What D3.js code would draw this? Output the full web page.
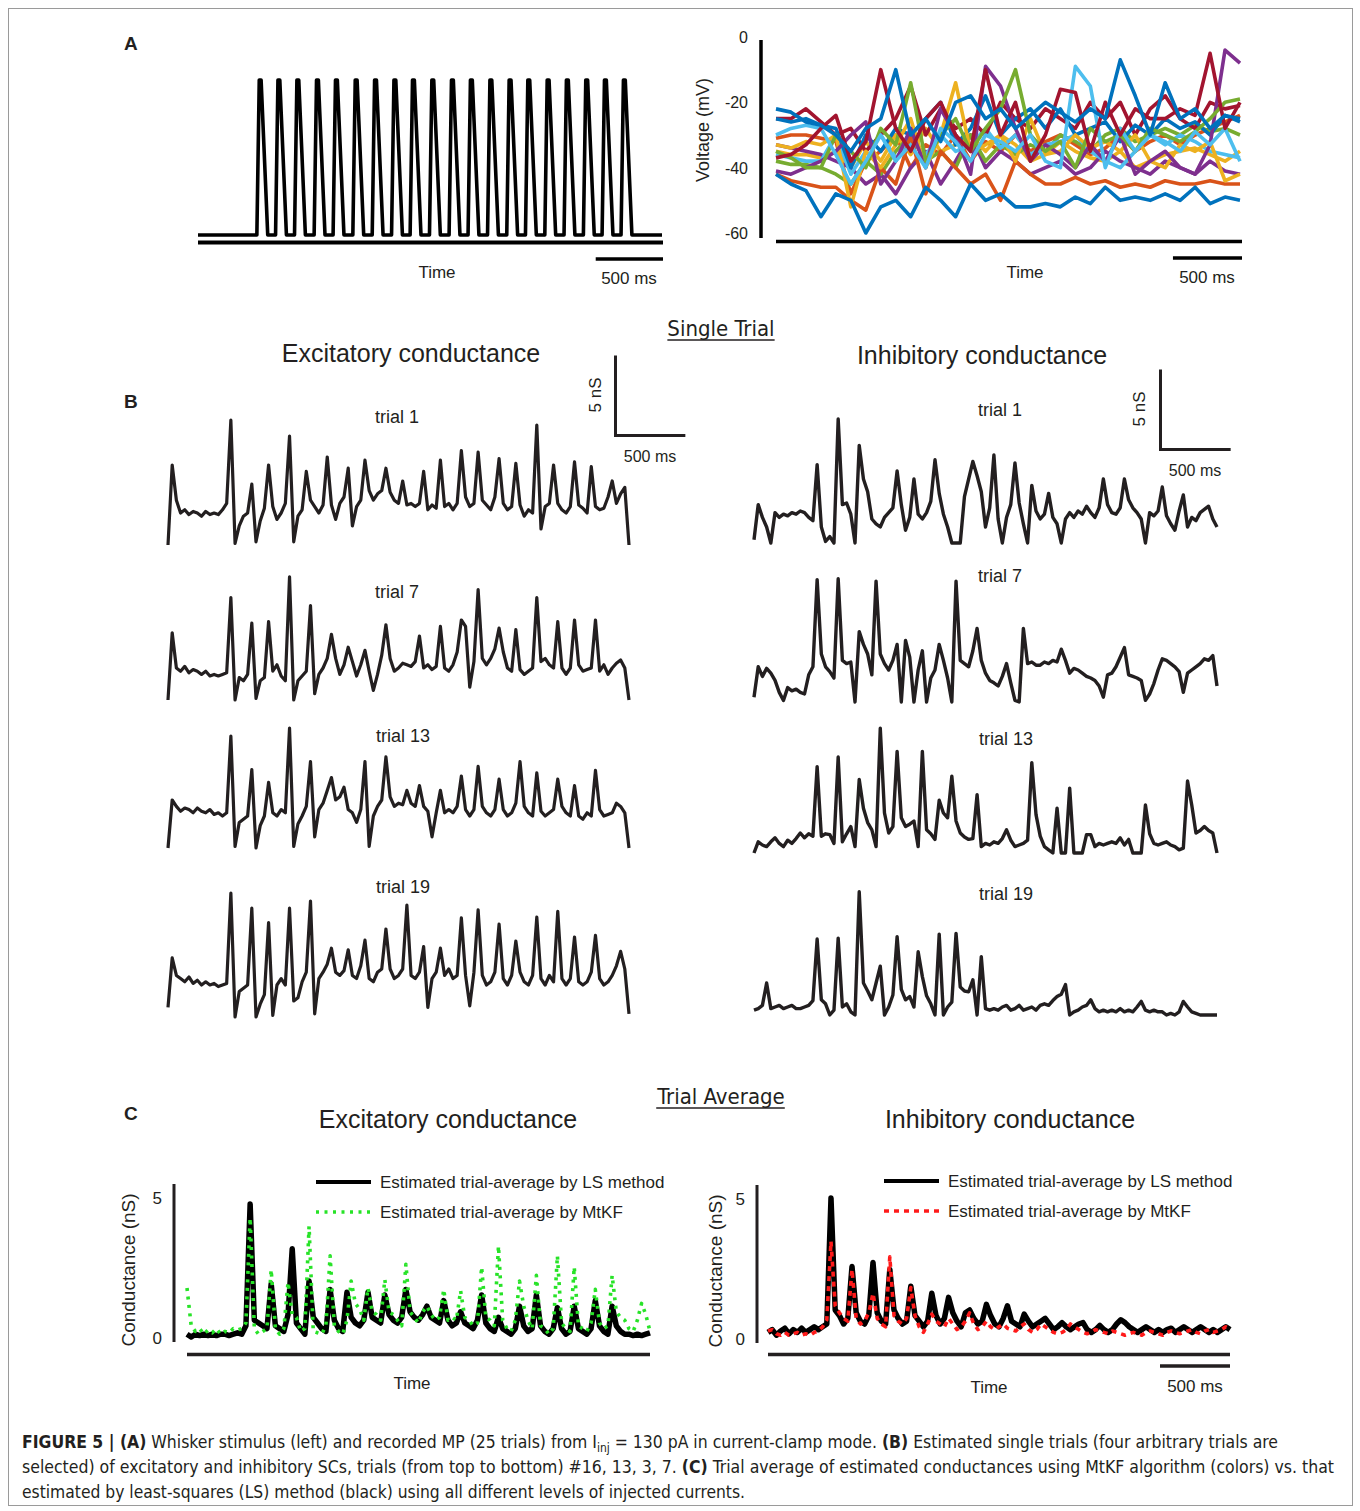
<!DOCTYPE html>
<html><head><meta charset="utf-8">
<script src="https://cdn.jsdelivr.net/npm/d3@7"></script>
<style>
body{margin:0;background:#fff}
svg text{font-family:Arial,"Liberation Sans",Helvetica,sans-serif;fill:#231f20}
.narrow{font-family:"Liberation Sans Narrow","Arial Narrow","DejaVu Sans Condensed",sans-serif}
</style></head>
<body><svg id="c" width="1360" height="1511"></svg>
<script>
// ---------------- DATA ----------------
// Panel A left: whisker stimulus pulse peak times (ms) and pulse shape (offset ms, amplitude)
const stimTimes = [468,609,752,900,1043,1192,1338,1484,1624,1770,1918,2061,2208,2353,2494,2640,2785,2931,3072,3215];
const pulseShape = [[-24,0],[-6,1],[8,1],[58,0]];
const stimDuration = 3500;

// Panel A right: membrane potential (mV), 32 samples over the recording
const vmDuration = 3360;
const vmTicks = [0,-20,-40,-60];
const vmOrange2 = [-31,-30,-30,-31,-32,-48,-38,-35,-30,-40,-33,-36,-30,-38,-32,-35,-30,-35,-32,-30,-33,-36,-34,-30,-35,-32,-30,-33,-30,-28,-26,-24];
const vmYellow2 = [-35,-36,-36,-37,-35,-40,-32,-38,-30,-36,-28,-35,-33,-30,-35,-30,-33,-38,-36,-32,-35,-37,-38,-35,-40,-38,-36,-35,-34,-36,-38,-35];
const vmPurple2 = [-33,-34,-35,-36,-38,-40,-45,-42,-48,-40,-35,-45,-38,-30,-40,-35,-38,-42,-40,-38,-42,-40,-35,-38,-40,-42,-38,-40,-42,-38,-41,-42];
const vmGreen2  = [-38,-39,-39,-40,-42,-45,-38,-42,-35,-30,-38,-35,-40,-30,-38,-33,-36,-33,-35,-30,-32,-35,-30,-28,-32,-30,-28,-30,-27,-29,-28,-30];
const vmLBlue2  = [-36,-37,-38,-38,-30,-42,-35,-30,-37,-32,-36,-30,-35,-33,-28,-34,-30,-36,-33,-32,-30,-35,-38,-40,-35,-30,-33,-30,-32,-35,-36,-37];
const vmRed2    = [-25,-25,-22,-26,-30,-28,-35,-30,-25,-15,-30,-22,-28,-25,-30,-20,-25,-28,-22,-25,-28,-20,-25,-20,-30,-22,-18,-25,-28,-20,-22,-21];
const vmBlue3   = [-25,-26,-25,-27,-28,-40,-30,-35,-28,-30,-25,-20,-33,-28,-18,-30,-25,-22,-28,-22,-30,-28,-26,-32,-27,-30,-25,-28,-26,-30,-24,-26];
const vmOrange1 = [-42,-44,-45,-46,-46,-50,-53,-40,-45,-30,-48,-35,-40,-45,-42,-50,-38,-42,-45,-45,-43,-45,-44,-46,-45,-46,-44,-45,-45,-44,-45,-45];
const vmYellow1 = [-33,-34,-32,-33,-30,-52,-35,-40,-33,-25,-40,-30,-14,-35,-33,-30,-38,-25,-36,-35,-30,-34,-32,-35,-30,-38,-40,-33,-35,-32,-44,-42];
const vmPurple1 = [-41,-42,-40,-38,-35,-30,-26,-45,-38,-28,-40,-22,-30,-42,-9,-15,-28,-38,-33,-36,-40,-33,-38,-30,-42,-38,-35,-40,-42,-33,-4,-8];
const vmGreen1  = [-35,-37,-40,-40,-30,-35,-40,-28,-33,-14,-38,-30,-25,-35,-28,-22,-10,-30,-35,-32,-40,-28,-32,-30,-35,-28,-30,-32,-29,-25,-20,-19];
const vmLBlue1  = [-30,-28,-27,-28,-36,-45,-38,-30,-38,-33,-40,-28,-32,-38,-30,-32,-35,-30,-38,-40,-9,-15,-40,-28,-35,-30,-32,-35,-29,-33,-28,-38];
const vmRed1    = [-37,-36,-33,-28,-24,-38,-32,-10,-28,-35,-25,-20,-30,-35,-10,-30,-20,-38,-30,-16,-17,-35,-20,-30,-22,-25,-25,-22,-24,-5,-28,-20];
const vmBlueLow = [-42,-45,-47,-55,-48,-50,-60,-52,-50,-55,-46,-50,-55,-45,-50,-48,-52,-52,-51,-52,-49,-51,-46,-50,-49,-50,-48,-50,-46,-51,-49,-50];
const vmBlueTop = [-22,-23,-26,-27,-30,-35,-28,-25,-10,-30,-25,-32,-20,-18,-25,-22,-28,-24,-20,-23,-26,-22,-25,-7,-18,-30,-14,-25,-22,-28,-24,-25];

// Panels B and C: conductance (nS) sampled every 30 ms over 3300 ms
const stepMs = 30;
const traceDuration = 3300;
const excTrial1 = [0,5.0,2.8,2.0,2.2,1.9,2.1,2.0,1.8,2.1, 1.9,2.0,1.9,2.2,2.6,7.8,0.1,1.2,1.8,2.0, 3.8,0.2,1.5,2.3,5.0,2.4,1.6,2.0,2.6,6.8, 0.2,1.8,2.2,4.6,2.8,2.4,2.0,2.5,5.5,2.5, 1.6,2.6,3.0,4.8,1.2,2.4,2.8,5.3,3.4,2.8, 3.2,3.4,4.8,3.3,2.8,2.6,4.0,2.5,2.6,2.4, 2.6,4.6,2.2,2.5,2.3,5.3,2.4,2.6,2.2,2.6, 5.9,3.0,2.4,2.6,5.8,2.8,2.5,2.2,3.0,5.4, 2.6,2.2,2.4,5.1,2.5,1.8,2.2,2.0,7.5,1.0, 2.4,2.6,5.0,2.6,2.2,2.0,2.4,5.2,2.5,2.3, 2.0,4.9,2.4,2.2,2.3,3.0,4.0,2.6,3.2,3.6,0];
const excTrial7 = [0,4.2,2.0,1.8,2.1,1.7,1.9,1.8,1.6,1.8, 1.5,1.6,1.5,1.6,1.7,6.4,0.0,1.4,1.2,1.6, 4.8,0.1,1.2,1.4,4.9,1.8,2.2,1.5,1.2,7.7, 0.0,1.2,1.5,1.8,5.9,0.4,1.6,2.0,2.6,4.1, 2.6,1.6,2.2,3.3,2.4,1.5,2.2,3.1,1.8,0.6, 1.6,2.8,4.7,2.6,1.8,2.0,2.3,2.2,2.1,2.4, 4.0,2.0,2.2,1.9,2.1,4.6,2.0,1.8,2.2,3.0, 5.0,4.6,0.8,2.4,6.9,2.6,2.2,2.6,3.2,4.5, 3.0,2.0,1.8,4.4,1.9,1.6,1.8,2.0,6.4,2.4, 2.6,2.2,2.0,4.9,2.0,1.6,2.0,5.0,2.2,1.8, 1.9,2.0,5.0,1.8,2.2,1.6,2.0,2.3,2.5,2.0,0.0];
const excTrial13 = [0,3.0,2.6,2.3,2.5,2.4,2.2,2.5,2.3,2.2, 2.4,2.1,2.2,2.0,2.2,7.0,0.1,1.6,1.8,2.0, 4.9,0.0,1.4,2.0,4.1,2.2,2.0,2.4,2.2,7.5, 0.1,1.5,2.0,2.6,5.4,0.7,2.4,2.8,3.6,4.4, 3.0,3.2,3.8,2.4,2.2,1.6,2.4,5.4,0.1,2.0, 2.6,3.0,5.7,3.2,2.6,2.8,2.7,3.6,2.8,2.6, 3.9,2.6,2.3,0.7,2.2,3.6,2.2,2.4,2.2,2.6, 4.5,2.4,2.0,2.4,5.1,2.6,2.2,2.0,2.4,4.3, 2.4,2.0,2.2,2.8,5.4,2.6,2.2,2.0,4.7,2.3, 2.0,2.2,2.4,4.3,2.6,2.2,2.0,3.9,2.0,1.8, 2.2,2.0,4.85,2.4,2.0,2.1,2.2,2.8,2.6,2.2,0];
const excTrial19 = [0.6,3.7,2.6,2.4,2.2,2.5,2.1,2.3,2.0,2.2, 2.0,2.1,1.9,2.0,2.1,7.75,0.0,1.6,1.8,2.0, 6.8,0.0,0.8,1.4,5.9,0.1,2.0,2.4,2.0,6.8, 1.0,1.2,2.2,2.8,7.25,0.2,2.4,2.8,3.3,4.3, 2.8,2.6,2.9,4.2,2.6,2.4,3.2,4.8,2.4,2.2, 2.8,3.0,5.5,3.0,2.4,2.6,3.0,7.0,2.6,2.4, 2.8,4.4,0.6,2.4,2.8,4.3,2.6,3.0,2.4,2.6, 6.2,2.6,0.7,2.8,6.7,2.6,2.0,2.2,2.8,5.8, 2.4,2.0,2.6,4.75,2.8,2.2,2.0,2.6,6.25,2.4, 2.0,2.6,2.2,6.6,2.4,2.0,2.4,5.0,2.2,2.0, 2.2,2.8,5.1,2.4,2.0,2.2,2.6,3.2,4.1,3.0,0.2];
const inhTrial1 = [0.2,2.4,1.6,1.0,0.0,1.9,1.6,1.8,1.7,1.9, 1.8,2.0,1.9,1.6,1.4,4.9,1.0,0.1,0.4,0.0, 7.75,2.4,2.5,1.8,0.0,6.1,4.0,3.2,1.5,1.2, 1.0,1.6,1.9,2.2,4.5,2.4,0.8,1.6,4.0,1.8, 1.5,1.9,2.6,5.2,3.1,1.8,1.0,0.0,0.0,0.0, 2.9,4.0,5.1,4.2,3.2,1.0,2.2,5.5,1.5,0.0, 1.6,2.4,5.0,2.5,1.2,0.0,3.6,2.0,1.5,1.8, 3.1,1.6,1.2,0.0,1.5,1.9,1.6,2.0,1.8,2.3, 1.9,1.6,2.2,4.0,2.4,1.9,1.8,2.2,4.0,2.7, 2.2,1.9,1.5,0.0,1.9,1.7,2.0,3.5,1.7,1.2, 0.8,2.0,3.0,1.0,1.6,1.4,1.9,2.1,2.3,1.5,1.0];
const inhTrial7 = [0.3,2.2,1.6,2.1,1.8,1.35,0.6,0.1,0.9,0.7, 0.8,0.6,0.5,1.7,2.2,7.65,3.0,2.2,1.9,1.5, 7.7,2.6,2.4,2.5,0.0,4.4,3.6,3.0,1.7,7.55, 3.0,2.4,2.0,2.6,3.6,0.0,3.85,2.8,0.0,2.0, 3.2,0.0,1.5,2.0,3.6,2.6,1.5,0.0,7.55,2.6, 2.4,2.2,3.2,4.6,2.6,1.8,1.35,1.2,1.0,1.6, 2.4,1.2,0.1,0.0,4.6,2.4,2.5,2.3,2.3,2.5, 2.4,2.6,2.5,3.3,2.6,1.8,2.1,2.0,1.8,1.6, 1.5,1.35,1.0,0.3,1.7,1.8,2.2,2.8,3.4,1.7, 1.6,1.5,1.35,0.1,0.5,1.15,2.0,2.7,2.6,2.4, 2.2,1.9,0.6,1.8,2.0,2.2,2.4,2.7,2.6,2.9,1.0];
const inhTrial13 = [0.0,0.7,0.5,0.4,0.7,0.95,0.6,0.4,0.8,0.6, 0.9,1.25,0.95,1.2,1.05,5.4,1.05,1.2,1.15,0.6, 6.0,0.7,1.2,1.65,0.4,4.6,2.8,1.9,1.45,0.4, 7.8,2.5,1.25,1.65,6.35,2.2,1.65,1.8,2.0,0.4, 6.35,1.45,1.2,0.85,3.3,2.5,2.2,4.8,2.0,1.25, 1.0,0.85,0.9,3.65,0.4,0.6,0.5,0.7,0.6,0.9, 1.45,0.8,0.4,0.5,0.6,0.8,5.65,2.4,1.05,0.4, 0.2,0.0,2.8,0.0,0.0,4.05,0.0,0.0,0.0,1.15, 1.15,0.4,0.6,0.5,0.6,0.7,0.6,0.95,0.5,0.85, 0.0,0.0,0.0,3.0,1.2,0.6,0.5,0.6,0.7,0.5, 0.4,0.2,0.3,4.5,3.0,1.25,1.4,1.65,1.4,1.25,0.0];
const inhTrial19 = [0.3,0.4,0.6,2.0,0.4,0.5,0.6,0.4,0.5,0.6, 0.4,0.4,0.5,0.6,0.9,4.75,0.95,0.7,0.0,0.3, 4.8,0.5,0.7,0.2,0.0,7.7,2.0,1.5,0.95,2.0, 3.05,0.0,0.5,1.25,4.9,1.6,0.95,1.15,0.5,3.95, 2.4,1.2,0.7,0.0,5.05,0.0,0.5,0.8,5.1,1.75, 1.5,1.45,2.2,0.0,3.65,0.4,0.3,0.4,0.3,0.5, 0.6,0.3,0.4,0.6,0.3,0.4,0.5,0.3,0.6,0.7, 0.6,0.9,1.15,1.3,1.9,0.0,0.2,0.3,0.5,0.6, 0.95,0.4,0.2,0.3,0.2,0.3,0.2,0.4,0.2,0.3, 0.2,0.5,0.85,0.3,0.2,0.3,0.2,0.2,0.0,0.1, 0.0,0.2,0.85,0.5,0.2,0.1,0.0,0.0,0.0,0.0,0.0];
const excAvgLS = [0.1,0.0,0.1,0.05,0.1,0.05,0.1,0.05,0.1,0.1, 0.05,0.1,0.15,0.1,0.4,4.75,0.6,0.5,0.4,0.3, 1.9,0.4,0.3,0.2,0.8,3.15,0.5,0.3,0.1,2.0, 0.7,0.5,0.3,0.2,1.7,0.6,0.3,0.2,1.6,0.7, 0.5,0.4,0.6,1.6,0.7,0.6,0.5,1.5,0.8,0.6, 0.5,0.7,1.7,0.9,0.7,0.6,0.8,1.1,0.7,0.6, 0.5,1.3,0.6,0.4,0.5,0.9,0.5,0.4,0.3,0.6, 1.5,0.5,0.3,0.2,0.7,0.3,0.2,0.1,0.3,1.1, 0.4,0.2,0.3,1.5,0.4,0.2,0.1,0.3,1.05,0.3, 0.1,0.2,1.1,0.3,0.2,0.1,0.3,1.3,0.4,0.2, 0.1,1.1,0.4,0.2,0.1,0.1,0.05,0.1,0.05,0.1,0.15];
const excAvgMtKF = [1.75,0.4,0.2,0.3,0.1,0.25,0.15,0.3,0.1,0.2, 0.15,0.3,0.25,0.3,0.5,4.25,0.3,0.1,0.2,0.3, 2.4,0.3,0.1,0.3,1.95,0.8,0.7,0.2,0.3,3.95, 0.2,0.15,0.1,0.4,2.9,0.4,0.2,0.1,0.6,2.0, 1.2,1.0,0.6,1.75,0.9,0.8,0.6,2.05,0.9,0.8, 0.6,0.4,2.6,0.9,0.7,0.5,0.9,1.1,0.8,0.6, 0.7,1.7,0.6,0.7,0.6,1.65,0.7,0.6,0.4,0.5, 2.5,0.7,0.6,0.4,3.25,0.6,0.3,0.2,0.6,2.0, 1.1,0.6,0.3,2.2,0.4,0.3,0.1,0.3,2.9,0.5, 0.3,0.2,2.5,0.4,0.3,0.2,0.5,1.7,0.5,0.3, 0.4,2.2,0.9,0.7,0.6,0.3,0.2,0.6,1.2,0.8,0.2];
const inhAvgLS = [0.2,0.3,0.1,0.25,0.35,0.15,0.3,0.2,0.35,0.2, 0.3,0.4,0.3,0.4,0.5,5.0,1.0,0.8,0.5,0.7, 2.55,0.9,0.6,0.5,0.8,2.7,0.9,0.6,0.5,2.45, 1.0,0.7,0.5,0.6,1.85,0.8,0.6,0.4,0.6,1.6, 0.8,0.5,0.7,1.45,0.9,0.6,0.4,0.9,1.0,0.7, 0.5,0.6,1.2,0.8,0.5,0.4,0.7,1.15,0.6,0.5, 0.4,0.85,0.6,0.4,0.5,0.6,0.7,0.5,0.3,0.4, 0.55,0.4,0.3,0.4,0.5,0.55,0.3,0.2,0.3,0.45, 0.3,0.2,0.3,0.5,0.65,0.55,0.4,0.3,0.2,0.3, 0.4,0.3,0.2,0.3,0.2,0.3,0.35,0.2,0.3,0.4, 0.3,0.2,0.3,0.4,0.3,0.2,0.3,0.2,0.3,0.4,0.3];
const inhAvgMtKF = [0.25,0.3,0.15,0.1,0.2,0.1,0.15,0.2,0.1,0.15, 0.1,0.2,0.25,0.4,0.65,3.45,1.15,0.9,0.7,0.6, 2.45,0.7,0.5,0.6,0.9,1.6,0.7,0.5,0.4,2.9, 0.8,0.6,0.5,0.7,1.8,0.8,0.4,0.2,0.5,0.85, 0.6,0.5,0.4,0.7,0.5,0.3,0.4,0.6,0.9,0.5, 0.3,0.4,0.6,0.4,0.3,0.4,0.5,0.35,0.3,0.25, 0.4,0.5,0.3,0.2,0.3,0.5,0.4,0.3,0.2,0.15, 0.2,0.3,0.5,0.4,0.3,0.2,0.15,0.2,0.3,0.25, 0.2,0.15,0.25,0.2,0.15,0.1,0.15,0.2,0.15,0.1, 0.2,0.25,0.2,0.15,0.1,0.2,0.25,0.2,0.15,0.2, 0.25,0.3,0.2,0.15,0.25,0.3,0.2,0.25,0.3,0.4,0.3];

const excTrialLabels = ["trial 1","trial 7","trial 13","trial 19"];
const inhTrialLabels = ["trial 1","trial 7","trial 13","trial 19"];
const legendLabels = ["Estimated trial-average by LS method","Estimated trial-average by MtKF"];
const cTicks = [0,5];

// ---------------- DRAWING ----------------
const svg = d3.select("#c");
const INK = "#231f20";

function text(x, y, s, o = {}) {
  const t = svg.append("text").attr("x", x).attr("y", y).text(s)
    .attr("font-size", o.size || 17).attr("text-anchor", o.anchor || "start");
  if (o.weight) t.attr("font-weight", o.weight);
  if (o.cls) t.attr("class", o.cls);
  if (o.rotate) t.attr("transform", `rotate(-90,${x},${y})`);
  return t;
}
function hline(x1, x2, y, w = 3, c = INK) {
  return svg.append("line").attr("x1", x1).attr("x2", x2).attr("y1", y).attr("y2", y)
    .attr("stroke", c).attr("stroke-width", w);
}
function vline(x, y1, y2, w = 3, c = INK) {
  return svg.append("line").attr("x1", x).attr("x2", x).attr("y1", y1).attr("y2", y2)
    .attr("stroke", c).attr("stroke-width", w);
}

// outer frame
svg.append("rect").attr("x", 8.5).attr("y", 8.5).attr("width", 1344).attr("height", 1497)
  .attr("fill", "none").attr("stroke", "#9a9a9a").attr("stroke-width", 1);

// Panel letters
text(124, 50, "A", { size: 19, weight: "bold" });
text(124, 408, "B", { size: 19, weight: "bold" });
text(124, 1120, "C", { size: 19, weight: "bold" });

// ---- Panel A left: stimulus ----
{
  const x = d3.scaleLinear().domain([0, stimDuration]).range([198, 662]);
  const y = d3.scaleLinear().domain([0, 1]).range([235, 80]);
  const pts = [[0, 0]];
  stimTimes.forEach(t => pulseShape.forEach(([dt, a]) => pts.push([t + dt, a])));
  pts.push([stimDuration, 0]);
  svg.append("path").datum(pts).attr("fill", "none").attr("stroke", "#000")
    .attr("stroke-width", 3.6).attr("stroke-linejoin", "round")
    .attr("d", d3.line().x(d => x(d[0])).y(d => y(d[1])));
  hline(x(0), x(stimDuration) + 1, 242.5, 4, "#000");
  hline(x(stimDuration) - (x(500) - x(0)), x(stimDuration) + 1, 259, 3.5, "#000");
  text(437, 278, "Time", { anchor: "middle" });
  text(629, 284, "500 ms", { anchor: "middle" });
}

// ---- Panel A right: membrane potential ----
{
  const x = d3.scaleLinear().domain([0, vmDuration]).range([776, 1240]);
  const y = d3.scaleLinear().domain([-60, 0]).range([233, 37]);
  const traces = [
    [vmOrange2, "#D95319"], [vmYellow2, "#EDB120"], [vmPurple2, "#7E2F8E"], [vmGreen2, "#77AC30"],
    [vmLBlue2, "#4DBEEE"], [vmRed2, "#A2142F"], [vmBlue3, "#0072BD"], [vmOrange1, "#D95319"],
    [vmYellow1, "#EDB120"], [vmPurple1, "#7E2F8E"], [vmGreen1, "#77AC30"], [vmLBlue1, "#4DBEEE"],
    [vmRed1, "#A2142F"], [vmBlueLow, "#0072BD"], [vmBlueTop, "#0072BD"]
  ];
  const line = arr => d3.line().x((d, i) => x(i * vmDuration / (arr.length - 1))).y(d => y(d))(arr);
  traces.forEach(([arr, c]) => {
    svg.append("path").attr("d", line(arr)).attr("fill", "none").attr("stroke", c)
      .attr("stroke-width", 3.6).attr("stroke-linejoin", "round");
  });
  vline(761, 40, 238, 3.5, "#000");
  hline(776, 1242, 241.5, 3.5, "#000");
  vmTicks.forEach(v => text(748, y(v) + 6, String(v), { size: 16, anchor: "end" }));
  text(709, 130, "Voltage (mV)", { size: 18, anchor: "middle", rotate: true });
  hline(1242 - (x(500) - x(0)), 1242, 258, 3.5, "#000");
  text(1025, 278, "Time", { anchor: "middle" });
  text(1207, 283, "500 ms", { anchor: "middle" });
}

// ---- Section headings ----
function underlined(cx, y, s) {
  const t = text(cx, y, s, { size: 22, anchor: "middle", cls: "narrow" });
  const b = t.node().getBBox();
  hline(b.x, b.x + b.width, y + 4, 1.3);
}
underlined(721, 336, "Single Trial");
text(411, 362, "Excitatory conductance", { size: 25, anchor: "middle" });
text(982, 364, "Inhibitory conductance", { size: 25, anchor: "middle" });

// ---- Panel B: single trials ----
function drawTrace(arr, x, y, w, c) {
  svg.append("path").attr("fill", "none").attr("stroke", c || INK).attr("stroke-width", w)
    .attr("stroke-linejoin", "round")
    .attr("d", d3.line().x((d, i) => x(i * stepMs)).y(d => y(d))(arr));
}
const pxPerNs = 16;
const excX = d3.scaleLinear().domain([0, traceDuration]).range([168, 629]);
const inhX = d3.scaleLinear().domain([0, traceDuration]).range([754, 1217]);
const excRows = [[excTrial1, 545, 423, 397], [excTrial7, 700, 598, 397], [excTrial13, 848, 742, 403], [excTrial19, 1017, 893, 403]];
const inhRows = [[inhTrial1, 543, 416, 1000], [inhTrial7, 702, 582, 1000], [inhTrial13, 853, 745, 1006], [inhTrial19, 1015, 900, 1006]];
excRows.forEach(([arr, base, ly, lx], i) => {
  const y = d3.scaleLinear().domain([0, 5]).range([base, base - 5 * pxPerNs]);
  drawTrace(arr, excX, y, 3.2);
  text(lx, ly, excTrialLabels[i], { size: 18, anchor: "middle" });
});
inhRows.forEach(([arr, base, ly, lx], i) => {
  const y = d3.scaleLinear().domain([0, 5]).range([base, base - 5 * pxPerNs]);
  drawTrace(arr, inhX, y, 3.4);
  text(lx, ly, inhTrialLabels[i], { size: 18, anchor: "middle" });
});
// scale bars
function scaleBar(x0, yb, xs) {
  const w = xs(500) - xs(0);
  vline(x0, yb - 5 * pxPerNs, yb + 1.5, 3);
  hline(x0 - 1.5, x0 + w, yb, 3);
}
scaleBar(615.5, 435.5, excX);
text(601, 395, "5 nS", { size: 17, anchor: "middle", rotate: true });
text(650, 462, "500 ms", { size: 16, anchor: "middle" });
scaleBar(1160.5, 449.5, inhX);
text(1145, 409, "5 nS", { size: 17, anchor: "middle", rotate: true });
text(1195, 476, "500 ms", { size: 16, anchor: "middle" });

// ---- Panel C: trial averages ----
underlined(721, 1104, "Trial Average");
text(448, 1128, "Excitatory conductance", { size: 25, anchor: "middle" });
text(1010, 1128, "Inhibitory conductance", { size: 25, anchor: "middle" });

function panelC(o) {
  const x = d3.scaleLinear().domain([0, traceDuration]).range([o.x0, o.x1]);
  const y = d3.scaleLinear().domain([0, 5]).range([o.y0, o.y0 - 5 * 28]);
  drawTrace(o.ls, x, y, 5.5, "#000");
  svg.append("path").attr("fill", "none").attr("stroke", o.color).attr("stroke-width", 3.6)
    .attr("stroke-dasharray", o.dash).attr("stroke-linejoin", "round")
    .attr("d", d3.line().x((d, i) => x(i * stepMs)).y(d => y(d))(o.kf));
  vline(o.ax, y(5) - 13, y(0) + 5, 3);
  hline(o.x0, o.x1, 1354.5, 3.5);
  cTicks.forEach(v => text(o.ax - 12, y(v) + 7, String(v), { size: 17, anchor: "end" }));
  text(o.ylx, y(2.5) + 3, "Conductance (nS)", { size: 19, anchor: "middle", rotate: true });
  // legend
  hline(o.lx, o.lx + 55, o.ly, 4, "#000");
  text(o.lx + 64, o.ly + 6, legendLabels[0], { size: 17 });
  hline(o.lx, o.lx + 55, o.ly + 30, 3.6, o.color).attr("stroke-dasharray", o.dash);
  text(o.lx + 64, o.ly + 36, legendLabels[1], { size: 17 });
  return x;
}
panelC({ x0: 187, x1: 650, y0: 1337, ax: 174, ylx: 135, ls: excAvgLS, kf: excAvgMtKF, color: "#27e327", dash: "3,5.5", lx: 316, ly: 1182 });
text(412, 1389, "Time", { anchor: "middle" });
const xcr = panelC({ x0: 768, x1: 1230, y0: 1338, ax: 757, ylx: 722, ls: inhAvgLS, kf: inhAvgMtKF, color: "#ff1a1a", dash: "5,5", lx: 884, ly: 1181 });
hline(1230 - (xcr(500) - xcr(0)), 1230, 1366, 3.5);
text(989, 1393, "Time", { anchor: "middle" });
text(1195, 1392, "500 ms", { anchor: "middle" });

// ---- Caption ----
function cap(y, len, parts) {
  const t = svg.append("text").attr("x", 22).attr("y", y).attr("font-size", 17.5)
    .attr("class", "narrow").attr("textLength", len).attr("lengthAdjust", "spacingAndGlyphs");
  parts.forEach(p => {
    const s = t.append("tspan").text(p[0]);
    if (p[1] === "b") s.attr("font-weight", "bold");
    if (p[1] === "sub") s.attr("font-size", 12).attr("dy", 4);
    if (p[1] === "up") s.attr("dy", -4);
  });
}
cap(1448, 1256, [["FIGURE 5 | (A)", "b"], [" Whisker stimulus (left) and recorded MP (25 trials) from I"], ["inj", "sub"], [" = 130 pA in current-clamp mode. ", "up"], ["(B)", "b"], [" Estimated single trials (four arbitrary trials are"]]);
cap(1473, 1312, [["selected) of excitatory and inhibitory SCs, trials (from top to bottom) #16, 13, 3, 7. "], ["(C)", "b"], [" Trial average of estimated conductances using MtKF algorithm (colors) vs. that"]]);
cap(1498, 723, [["estimated by least-squares (LS) method (black) using all different levels of injected currents."]]);
</script>
</body></html>
